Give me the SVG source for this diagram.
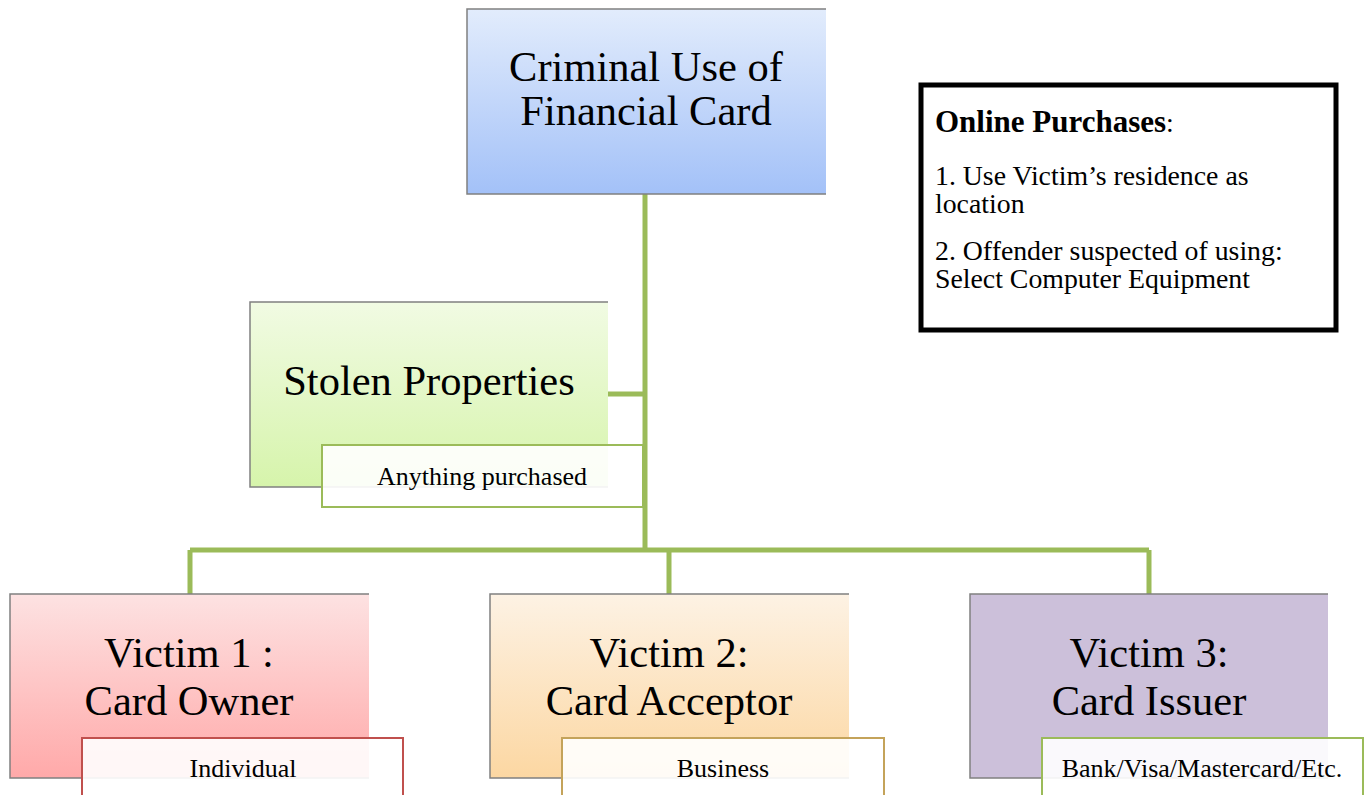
<svg xmlns="http://www.w3.org/2000/svg" width="1369" height="795" viewBox="0 0 1369 795">
<defs>
<linearGradient id="gBlue" x1="0" y1="0" x2="0" y2="1"><stop offset="0" stop-color="#e2ecfc"/><stop offset="1" stop-color="#a3c1f8"/></linearGradient>
<linearGradient id="gGreen" x1="0" y1="0" x2="0" y2="1"><stop offset="0" stop-color="#f1fbe3"/><stop offset="1" stop-color="#d6f4ab"/></linearGradient>
<linearGradient id="gRed" x1="0" y1="0" x2="0" y2="1"><stop offset="0" stop-color="#fde2e2"/><stop offset="1" stop-color="#ffa9a9"/></linearGradient>
<linearGradient id="gOrange" x1="0" y1="0" x2="0" y2="1"><stop offset="0" stop-color="#fdf2e4"/><stop offset="1" stop-color="#fcd7a2"/></linearGradient>
</defs>
<style>
.edge{fill:none;stroke:#808080;stroke-width:1.5}
.main{font-family:"Liberation Serif","Times New Roman",serif;font-size:42.5px;fill:#000;text-anchor:middle}
.sub{font-family:"Liberation Serif","Times New Roman",serif;font-size:26px;fill:#000;text-anchor:middle}
.subbox{fill:#ffffff;fill-opacity:0.9;stroke-width:2}
.conn{fill:none;stroke:#9bbb59;stroke-width:5}
.note{font-family:"Liberation Serif","Times New Roman",serif;font-size:27.8px;fill:#000}
.head{font-size:31px;font-weight:bold}
</style>
<rect width="1369" height="795" fill="#ffffff"/>
<g id="connectors">
<path class="conn" d="M645 194 V550 M608 394 H645 M190 550 H1149 M190 550 V594 M669 550 V594 M1149 550 V594"/>
</g>
<g id="node-criminal">
<rect x="467" y="9" width="359" height="185" fill="url(#gBlue)"/>
<path class="edge" d="M826 9 H467 V194 H826"/>
<text class="main" x="646" y="81">Criminal Use of</text>
<text class="main" x="646" y="125">Financial Card</text>
</g>
<g id="node-stolen">
<rect x="250" y="302" width="358" height="185" fill="url(#gGreen)"/>
<path class="edge" d="M608 302 H250 V487 H608"/>
<text class="main" x="429" y="395">Stolen Properties</text>
<rect class="subbox" x="322" y="445" width="321" height="62" stroke="#9bbb59"/>
<text class="sub" x="482" y="485">Anything purchased</text>
</g>
<g id="node-victim1">
<rect x="10" y="594" width="359" height="184" fill="url(#gRed)"/>
<path class="edge" d="M369 594 H10 V778 H369"/>
<text class="main" x="189" y="667">Victim 1 :</text>
<text class="main" x="189" y="715">Card Owner</text>
<rect class="subbox" x="82" y="738" width="321" height="70" stroke="#c0504d"/>
<text class="sub" x="243" y="777">Individual</text>
</g>
<g id="node-victim2">
<rect x="490" y="594" width="359" height="184" fill="url(#gOrange)"/>
<path class="edge" d="M849 594 H490 V778 H849"/>
<text class="main" x="669" y="667">Victim 2:</text>
<text class="main" x="669" y="715">Card Acceptor</text>
<rect class="subbox" x="562" y="738" width="322" height="70" stroke="#c4a35a"/>
<text class="sub" x="723" y="777">Business</text>
</g>
<g id="node-victim3">
<rect x="970" y="594" width="358" height="184" fill="#ccc0da"/>
<path class="edge" d="M1328 594 H970 V778 H1328"/>
<text class="main" x="1149" y="667">Victim 3:</text>
<text class="main" x="1149" y="715">Card Issuer</text>
<rect class="subbox" x="1042" y="738" width="321" height="70" stroke="#9bbb59"/>
<text class="sub" x="1202" y="777">Bank/Visa/Mastercard/Etc.</text>
</g>
<g id="node-online">
<rect x="921" y="85" width="415" height="245" fill="#ffffff" stroke="#000" stroke-width="5"/>
<text class="note" x="935" y="132"><tspan class="head">Online Purchases</tspan>:</text>
<text class="note" x="935" y="185">1. Use Victim’s residence as</text>
<text class="note" x="935" y="213">location</text>
<text class="note" x="935" y="260">2. Offender suspected of using:</text>
<text class="note" x="935" y="288">Select Computer Equipment</text>
</g>
</svg>
